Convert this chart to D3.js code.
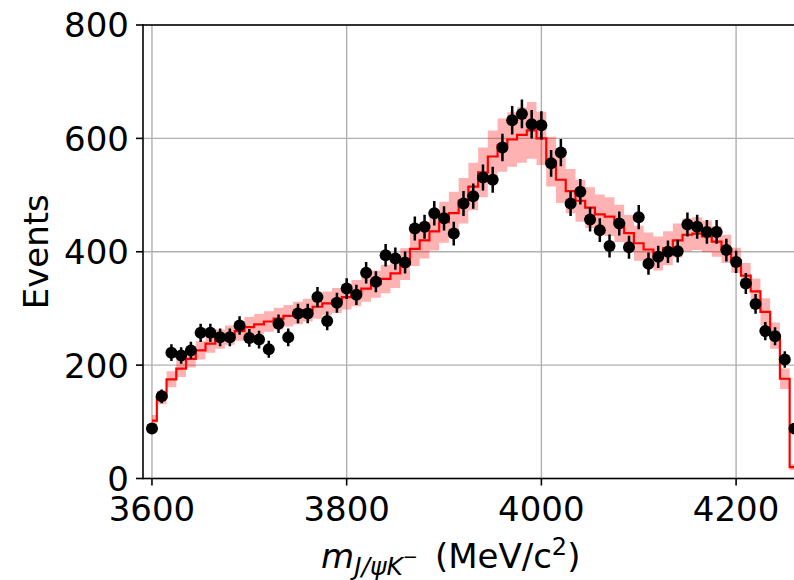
<!DOCTYPE html>
<html>
<head>
<meta charset="utf-8">
<script src="https://cdn.jsdelivr.net/npm/d3@7"></script>
<style>
  html, body { margin: 0; padding: 0; background: #fff; }
  svg { display: block; }
  text { font-family: "DejaVu Sans", sans-serif; fill: #000; }
</style>
</head>
<body>
<svg id="chart" width="794" height="580"></svg>
<script>
// ---- data ----
const binCenters = [3600,3610,3620,3630,3640,3650,3660,3670,3680,3690,
  3700,3710,3720,3730,3740,3750,3760,3770,3780,3790,
  3800,3810,3820,3830,3840,3850,3860,3870,3880,3890,
  3900,3910,3920,3930,3940,3950,3960,3970,3980,3990,
  4000,4010,4020,4030,4040,4050,4060,4070,4080,4090,
  4100,4110,4120,4130,4140,4150,4160,4170,4180,4190,
  4200,4210,4220,4230,4240,4250,4260];

const dataCounts = [88,145,222,217,226,257,257,249,249,270,
  248,245,228,273,249,291,291,320,278,310,
  335,324,363,347,394,388,381,441,444,468,
  459,432,485,498,531,527,584,632,643,625,
  623,556,575,485,506,457,438,410,450,408,
  461,379,391,400,401,448,444,435,435,403,
  382,344,308,260,251,210,88];

const fitValues = [102,143,175,194,211,226,238,246,253,260,
  267,272,277,282,287,292,297,303,309,314,
  320,327,335,343,352,362,378,405,420,436,
  452,468,490,515,540,568,588,598,606,614,
  600,559,527,507,490,478,466,462,450,433,
  415,404,397,406,420,430,432,427,418,405,
  385,358,330,294,252,176,20];

const fitUncertainty = [10,12,14,15,15,16,16,17,17,17,
  18,18,18,19,19,20,20,21,21,22,
  22,23,23,24,25,26,28,30,32,34,
  36,38,40,42,44,46,47,48,49,50,
  47,44,41,39,37,36,35,34,33,32,
  31,30,30,30,30,29,29,28,27,25,
  22,22,23,24,23,18,5];

const xTicks = [3600, 3800, 4000, 4200];
const yTicks = [0, 200, 400, 600, 800];

// ---- layout ----
const svg = d3.select("#chart");
const L = 143, R = 795, T = 25, B = 478.5;
const x = d3.scaleLinear().domain([3590.8, 4260.5]).range([L, R]);
const y = d3.scaleLinear().domain([0, 800]).range([B, T]);

svg.append("defs").append("clipPath").attr("id", "clip")
  .append("rect").attr("x", L).attr("y", T).attr("width", R - L).attr("height", B - T);

// grid
const grid = svg.append("g");
xTicks.forEach(t => grid.append("line")
  .attr("x1", x(t)).attr("x2", x(t)).attr("y1", T).attr("y2", B)
  .attr("stroke", "#b0b0b0").attr("stroke-width", 1.4));
yTicks.forEach(t => grid.append("line")
  .attr("x1", L).attr("x2", R).attr("y1", y(t)).attr("y2", y(t))
  .attr("stroke", "#b0b0b0").attr("stroke-width", 1.4));

const rows = binCenters.map((m, i) => ({
  m, n: dataCounts[i], f: fitValues[i], e: fitUncertainty[i]
}));

const plot = svg.append("g").attr("clip-path", "url(#clip)");

// uncertainty band
plot.append("path").datum(rows)
  .attr("d", d3.area().curve(d3.curveStep)
    .x(d => x(d.m)).y0(d => y(d.f - d.e)).y1(d => y(d.f + d.e)))
  .attr("fill", "#ff0000").attr("fill-opacity", 0.3).attr("stroke", "none");

// fit line
plot.append("path").datum(rows)
  .attr("d", d3.line().curve(d3.curveStep).x(d => x(d.m)).y(d => y(d.f)))
  .attr("fill", "none").attr("stroke", "#ff0000").attr("stroke-width", 2.2);

// data points with Poisson error bars
const pts = plot.append("g");
pts.selectAll("line").data(rows).enter().append("line")
  .attr("x1", d => x(d.m)).attr("x2", d => x(d.m))
  .attr("y1", d => y(d.n - Math.sqrt(d.n))).attr("y2", d => y(d.n + Math.sqrt(d.n)))
  .attr("stroke", "#000").attr("stroke-width", 2.5);
pts.selectAll("circle").data(rows).enter().append("circle")
  .attr("cx", d => x(d.m)).attr("cy", d => y(d.n)).attr("r", 6)
  .attr("fill", "#000");

// spines
const sp = svg.append("g").attr("stroke", "#000").attr("stroke-width", 1.6);
sp.append("line").attr("x1", L).attr("x2", L).attr("y1", T - 0.8).attr("y2", B + 0.8);
sp.append("line").attr("x1", L).attr("x2", R + 5).attr("y1", T).attr("y2", T);
sp.append("line").attr("x1", L).attr("x2", R + 5).attr("y1", B).attr("y2", B);

// ticks and labels
const tk = svg.append("g");
yTicks.forEach(t => {
  tk.append("line").attr("x1", L - 7).attr("x2", L).attr("y1", y(t)).attr("y2", y(t))
    .attr("stroke", "#000").attr("stroke-width", 1.6);
  tk.append("text").attr("x", L - 14).attr("y", y(t) + 12.4)
    .attr("text-anchor", "end").attr("font-size", 34).text(t);
});
xTicks.forEach(t => {
  tk.append("line").attr("x1", x(t)).attr("x2", x(t)).attr("y1", B).attr("y2", B + 7)
    .attr("stroke", "#000").attr("stroke-width", 1.6);
  tk.append("text").attr("x", x(t)).attr("y", B + 42)
    .attr("text-anchor", "middle").attr("font-size", 34).text(t);
});

// axis labels
svg.append("text").attr("transform", `translate(48,${(T + B) / 2}) rotate(-90)`)
  .attr("text-anchor", "middle").attr("font-size", 34).text("Events");

const xl = svg.append("text").attr("x", 321).attr("y", 568).attr("font-size", 34);
xl.append("tspan").attr("font-style", "italic").text("m");
xl.append("tspan").attr("font-style", "italic").attr("font-size", 25).attr("dy", 7).text("J/ψK");
xl.append("tspan").attr("font-size", 18).attr("dy", -12).text("−");
xl.append("tspan").attr("dy", 5).text("\u2002(MeV/c");
xl.append("tspan").attr("font-size", 24).attr("dy", -13).text("2");
xl.append("tspan").attr("dy", 13).text(")");
</script>
</body>
</html>
